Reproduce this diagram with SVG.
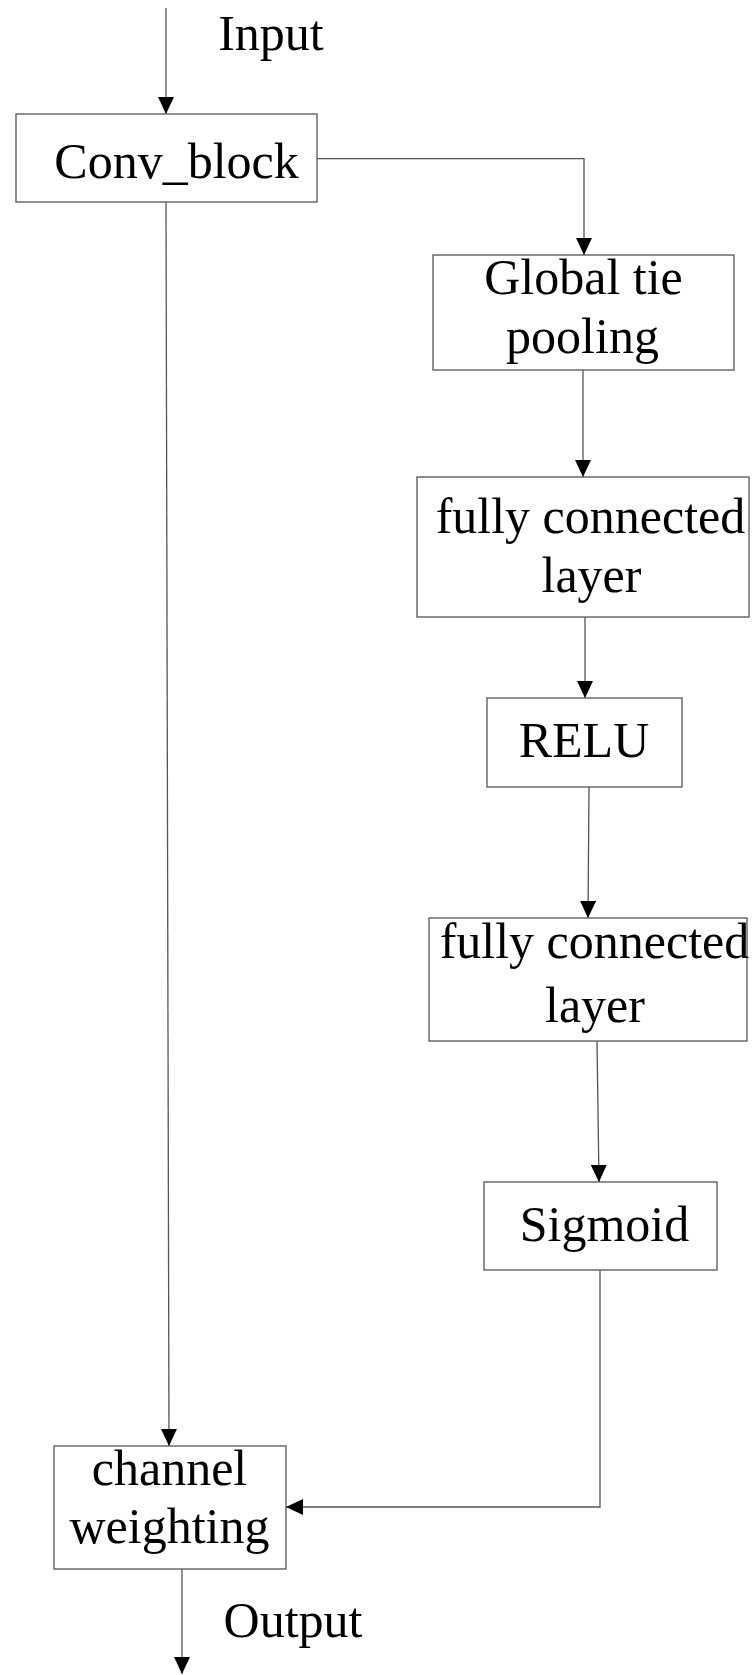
<svg xmlns="http://www.w3.org/2000/svg" width="752" height="1675" viewBox="0 0 752 1675">
<style>
.box{fill:#fff;stroke:#555;stroke-width:1.3}
.lbl{font-family:"Liberation Serif","Times New Roman",serif;font-size:50px;fill:#000;text-anchor:middle}
.con{fill:none;stroke:#555;stroke-width:1.3}
</style>
<defs>
<marker id="arr" markerUnits="userSpaceOnUse" markerWidth="17" markerHeight="16" refX="17" refY="8" orient="auto">
<path d="M0,0 L17,8 L0,16 z" fill="#000"/>
</marker>
</defs>
<rect width="752" height="1675" fill="#fff"/>
<g id="connectors">
<line class="con" x1="166" y1="8" x2="166" y2="114" marker-end="url(#arr)"/>
<polyline class="con" points="317,158.7 584,158.7 584,255" marker-end="url(#arr)"/>
<line class="con" x1="583" y1="370" x2="583" y2="477" marker-end="url(#arr)"/>
<line class="con" x1="585" y1="617" x2="585" y2="698" marker-end="url(#arr)"/>
<line class="con" x1="589" y1="787" x2="588" y2="918" marker-end="url(#arr)"/>
<line class="con" x1="597" y1="1041" x2="599" y2="1182" marker-end="url(#arr)"/>
<polyline class="con" points="600,1270 600,1507 286,1507" marker-end="url(#arr)"/>
<line class="con" x1="166" y1="202" x2="169" y2="1446" marker-end="url(#arr)"/>
<line class="con" x1="182" y1="1569" x2="182" y2="1674" marker-end="url(#arr)"/>
</g>
<g id="input-label"><text class="lbl" x="271" y="50">Input</text></g>
<g id="conv-block">
<rect class="box" x="16" y="114" width="301" height="88"/>
<text class="lbl" x="176.5" y="178">Conv_block</text>
</g>
<g id="global-pooling">
<rect class="box" x="433" y="255" width="301" height="115"/>
<text class="lbl" x="583.5" y="294">Global tie</text>
<text class="lbl" x="582.5" y="353">pooling</text>
</g>
<g id="fc1">
<rect class="box" x="417" y="477" width="332" height="140"/>
<text class="lbl" x="590.5" y="533">fully connected</text>
<text class="lbl" x="591.5" y="592">layer</text>
</g>
<g id="relu">
<rect class="box" x="487" y="698" width="195" height="89"/>
<text class="lbl" x="584" y="757">RELU</text>
</g>
<g id="fc2">
<rect class="box" x="429" y="918" width="318" height="123"/>
<text class="lbl" x="594.5" y="958">fully connected</text>
<text class="lbl" x="595" y="1022">layer</text>
</g>
<g id="sigmoid">
<rect class="box" x="484" y="1182" width="233" height="88"/>
<text class="lbl" x="604.5" y="1241">Sigmoid</text>
</g>
<g id="channel-weighting">
<rect class="box" x="54" y="1446" width="232" height="123"/>
<text class="lbl" x="169.5" y="1485">channel</text>
<text class="lbl" x="169.5" y="1543">weighting</text>
</g>
<g id="output-label"><text class="lbl" x="293" y="1637">Output</text></g>
</svg>
